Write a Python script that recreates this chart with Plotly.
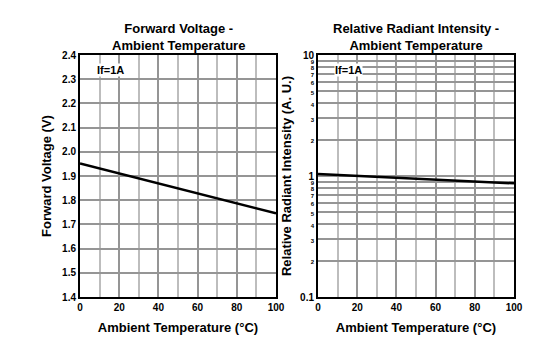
import plotly.graph_objects as go

temps = [0, 20, 40, 60, 80, 100]
vf = [1.952, 1.911, 1.870, 1.829, 1.787, 1.746]
rel = [1.04, 1.005, 0.97, 0.935, 0.90, 0.87]

vf_ticks = [1.4, 1.5, 1.6, 1.7, 1.8, 1.9, 2.0, 2.1, 2.2, 2.3, 2.4]
log_ticks = [0.1, 0.2, 0.3, 0.4, 0.5, 0.6, 0.7, 0.8, 0.9, 1, 2, 3, 4, 5, 6, 7, 8, 9, 10]
log_labels = ["0.1", "2", "3", "4", "5", "6", "7", "8", "9", "1", "2", "3", "4", "5", "6", "7", "8", "9", "10"]

FONT = "Liberation Sans, Arial, sans-serif"
W, H = 554, 362
OFF = 8  # default page body margin

small_txt = []
for v, t in zip(log_ticks, log_labels):
    if v in (0.1, 1, 10):
        small_txt.append(f"<b>{t}</b>")
    else:
        small_txt.append(f"<span style='font-size:6px'><b>{t}</b></span>")

def px_x(p):
    return (p - OFF) / W

def px_y(p):
    return 1 - (p - OFF) / H

fig = go.Figure()
fig.add_trace(go.Scatter(x=temps, y=vf, mode="lines", line=dict(color="black", width=2.5),
                         xaxis="x", yaxis="y", showlegend=False))
fig.add_trace(go.Scatter(x=temps, y=rel, mode="lines", line=dict(color="black", width=2.5),
                         xaxis="x2", yaxis="y2", showlegend=False))

L0, L1 = px_x(80), px_x(276)
R0, R1 = px_x(318), px_x(514)
Y0, Y1 = px_y(297), px_y(55)

grid_main = "#959595"
grid_minor = "#bdbdbd"

xcommon = dict(range=[0, 100], dtick=20, tick0=0, showgrid=True, gridcolor=grid_main, gridwidth=1.5,
               minor=dict(dtick=10, showgrid=True, gridcolor=grid_minor, gridwidth=2),
               showline=True, linecolor="black", linewidth=2, mirror=True, ticks="",
               tickfont=dict(family=FONT, size=10, color="black", weight="bold"),
               title=dict(text="<b>Ambient Temperature (°C)</b>", font=dict(family=FONT, size=13, color="black"), standoff=11),
               zeroline=False, automargin=False)

fig.update_layout(
    width=W, height=H, margin=dict(l=0, r=0, t=0, b=0),
    paper_bgcolor="white", plot_bgcolor="white",
    xaxis=dict(domain=[L0, L1], anchor="y", **xcommon),
    xaxis2=dict(domain=[R0, R1], anchor="y2", **xcommon),
    yaxis=dict(domain=[Y0, Y1], anchor="x", range=[1.4, 2.4], tickvals=vf_ticks,
               ticktext=[f"{v:.1f}" for v in vf_ticks],
               showgrid=True, gridcolor=grid_main, gridwidth=1.5,
               showline=True, linecolor="black", linewidth=2, mirror=True, ticks="",
               tickfont=dict(family=FONT, size=10, color="black", weight="bold"),
               title=dict(text="<b>Forward Voltage (V)</b>", font=dict(family=FONT, size=13, color="black"), standoff=8),
               zeroline=False, automargin=False),
    yaxis2=dict(domain=[Y0, Y1], anchor="x2", type="log", range=[-1, 1], tickvals=log_ticks,
                ticktext=small_txt,
                showgrid=True, gridcolor=grid_main, gridwidth=1.5,
                showline=True, linecolor="black", linewidth=2, mirror=True, ticks="",
                tickfont=dict(family=FONT, size=10, color="black"),
                title=dict(text="<b>Relative Radiant Intensity (A. U.)</b>", font=dict(family=FONT, size=13, color="black"), standoff=6),
                zeroline=False, automargin=False),
    annotations=[
        dict(text="<b>Forward Voltage -<br>Ambient Temperature</b>", x=(L0 + L1) / 2, y=px_y(19),
             xref="paper", yref="paper", xanchor="center", yanchor="top", showarrow=False,
             font=dict(family=FONT, size=13, color="black")),
        dict(text="<b>Relative Radiant Intensity -<br>Ambient Temperature</b>", x=(R0 + R1) / 2, y=px_y(19),
             xref="paper", yref="paper", xanchor="center", yanchor="top", showarrow=False,
             font=dict(family=FONT, size=13, color="black")),
        dict(text="<b>If=1A</b>", x=8, y=2.338, xref="x", yref="y", xanchor="left", yanchor="middle",
             showarrow=False, bgcolor="white", borderpad=0, font=dict(family=FONT, size=11, color="black")),
        dict(text="<b>If=1A</b>", x=8, y=0.876, xref="x2", yref="y2", xanchor="left", yanchor="middle",
             showarrow=False, bgcolor="white", borderpad=0, font=dict(family=FONT, size=11, color="black")),
    ],
)

fig.write_html("out.html")
